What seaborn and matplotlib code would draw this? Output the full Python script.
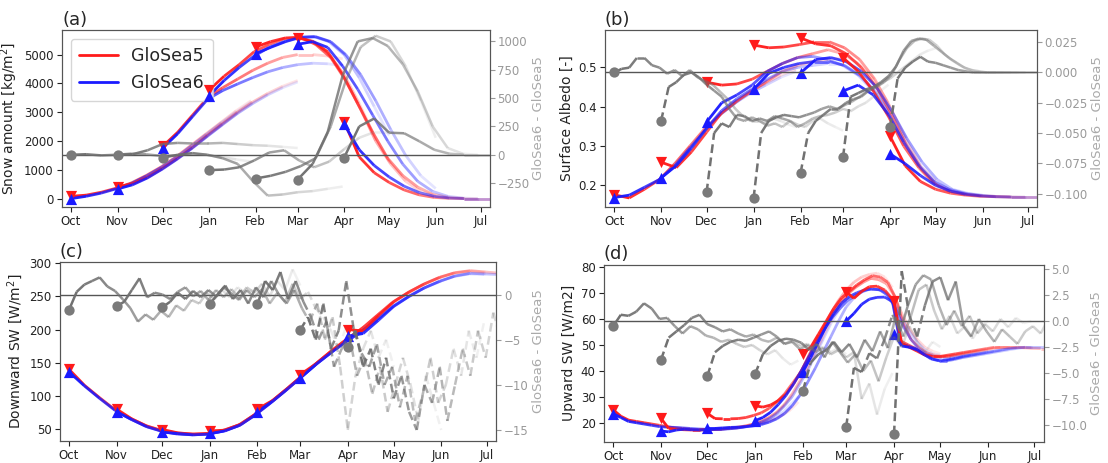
import numpy as np
import matplotlib
matplotlib.use('Agg')
import matplotlib.pyplot as plt
from matplotlib.collections import LineCollection
from matplotlib.colors import to_rgba
from matplotlib.lines import Line2D
import seaborn as sns

sns.set_style('ticks')
plt.rcParams['font.family'] = ['DejaVu Sans']

# start dates of the forecasts, in days since 1 Oct
init_days = [0, 31, 61, 92, 123, 151, 182]
month_days = [0, 31, 61, 92, 123, 151, 182, 212, 243, 273]
month_labels = ['Oct', 'Nov', 'Dec', 'Jan', 'Feb', 'Mar', 'Apr', 'May', 'Jun', 'Jul']

# (a) snow amount, every 10 days of lead time
snow_g5 = [
    [80, 120, 220, 360, 540, 800, 1100, 1450, 1850, 2250, 2650, 3050, 3400],
    [403, 520, 740, 1050, 1400, 1780, 2200, 2600, 3000, 3350, 3650, 3900, 4100],
    [1810, 2300, 2900, 3500, 3850, 4150, 4450, 4700, 4900, 5000, 5000, 4950, 4850],
    [3767, 4250, 4650, 5100, 5350, 5550, 5600, 5450, 5000, 4300, 3300, 2200, 1300],
    [5265, 5450, 5580, 5600, 5350, 4900, 4100, 3100, 2000, 1200, 600, 250, 100],
    [5587, 5450, 5100, 4300, 3300, 2300, 1400, 800, 400, 150, 50, 10, 0],
    [2673, 1450, 900, 560, 300, 130, 40, 10, 0, 0, 0, 0, 0],
]
snow_g6 = [
    [0, 80, 190, 340, 520, 780, 1080, 1430, 1820, 2220, 2620, 3000, 3350],
    [334, 480, 720, 1030, 1380, 1760, 2170, 2570, 2960, 3300, 3600, 3850, 4050],
    [1750, 2250, 2850, 3450, 3750, 3980, 4200, 4400, 4550, 4650, 4700, 4680, 4620],
    [3571, 4100, 4550, 4950, 5250, 5450, 5600, 5620, 5450, 5000, 4200, 3200, 2200],
    [5035, 5250, 5450, 5600, 5620, 5450, 5000, 4300, 3400, 2400, 1500, 800, 350],
    [5357, 5450, 5250, 4600, 3800, 2900, 2000, 1200, 600, 250, 80, 20, 0],
    [2580, 1700, 1150, 750, 430, 210, 80, 20, 0, 0, 0, 0, 0],
]
snow_diff = [
    [0, 5, -5, 0, 10, 5, -10, -5, 10, 0, -20, -40, -60],
    [0, 5, 40, 95, 105, 100, 100, 105, 95, 85, 80, 70, 60],
    [-26, 0, 15, 0, -30, -80, -230, -360, -350, -330, -320, -300, -280],
    [-135, -130, -110, -50, 20, 40, -50, -110, -60, 50, 150, 200, 200],
    [-209, -185, -150, -100, -30, 250, 650, 950, 1050, 1000, 780, 480, 150],
    [-218, -80, 200, 700, 1000, 1030, 960, 800, 560, 250, 60, 10, 0],
    [-24, 250, 320, 195, 190, 120, 45, 10, 0, 0, 0, 0, 0],
]

# (b) surface albedo, lines every 10 days, differences every 5 days
albedo_g5 = [
    [0.176, 0.168, 0.19, 0.215, 0.255, 0.30, 0.345, 0.38, 0.41, 0.44, 0.46, 0.48, 0.495],
    [0.259, 0.245, 0.285, 0.335, 0.385, 0.415, 0.44, 0.465, 0.49, 0.505, 0.515, 0.52, 0.525],
    [0.4625, 0.455, 0.458, 0.47, 0.49, 0.51, 0.525, 0.535, 0.545, 0.535, 0.51, 0.47, 0.41],
    [0.557, 0.55, 0.552, 0.558, 0.565, 0.565, 0.55, 0.52, 0.47, 0.40, 0.32, 0.25, 0.21],
    [0.575, 0.56, 0.555, 0.535, 0.50, 0.45, 0.38, 0.30, 0.24, 0.20, 0.185, 0.177, 0.173],
    [0.525, 0.49, 0.44, 0.375, 0.30, 0.245, 0.205, 0.185, 0.178, 0.174, 0.172, 0.171, 0.17],
    [0.325, 0.25, 0.21, 0.19, 0.18, 0.175, 0.172, 0.171, 0.17, 0.17, 0.17, 0.17, 0.17],
]
albedo_g6 = [
    [0.169, 0.175, 0.195, 0.215, 0.25, 0.295, 0.34, 0.38, 0.41, 0.435, 0.455, 0.475, 0.49],
    [0.219, 0.25, 0.295, 0.345, 0.39, 0.42, 0.445, 0.47, 0.49, 0.50, 0.505, 0.51, 0.51],
    [0.361, 0.41, 0.43, 0.455, 0.49, 0.51, 0.525, 0.528, 0.52, 0.505, 0.48, 0.44, 0.39],
    [0.444, 0.485, 0.50, 0.51, 0.515, 0.515, 0.505, 0.48, 0.44, 0.38, 0.31, 0.25, 0.21],
    [0.486, 0.52, 0.525, 0.515, 0.49, 0.45, 0.39, 0.32, 0.26, 0.215, 0.19, 0.18, 0.175],
    [0.44, 0.455, 0.43, 0.38, 0.31, 0.25, 0.21, 0.19, 0.18, 0.175, 0.172, 0.171, 0.17],
    [0.28, 0.255, 0.225, 0.20, 0.185, 0.177, 0.173, 0.171, 0.17, 0.17, 0.17, 0.17, 0.17],
]
albedo_diff = [
    [0.000, 0.003, 0.004, 0.012, 0.012, 0.006, 0.004, -0.001, 0.002, -0.003, 0.002, -0.004, -0.007,
     -0.01, -0.016, -0.022, -0.03, -0.036, -0.04, -0.04, -0.042, -0.038, -0.04, -0.043, -0.045],
    [-0.040, -0.012, -0.008, -0.002, 0.000, -0.004, -0.01, -0.015, -0.02, -0.03, -0.038, -0.04, -0.037,
     -0.04, -0.044, -0.042, -0.045, -0.04, -0.043, -0.045, -0.04, -0.038, -0.042, -0.045, -0.048],
    [-0.099, -0.05, -0.042, -0.045, -0.035, -0.036, -0.04, -0.038, -0.04, -0.036, -0.038, -0.04, -0.045,
     -0.042, -0.038, -0.036, -0.035, -0.033, -0.03, -0.032, -0.028, -0.025, -0.02, -0.015, -0.01],
    [-0.104, -0.05, -0.04, -0.037, -0.035, -0.036, -0.037, -0.035, -0.033, -0.03, -0.028, -0.03, -0.027,
     -0.024, -0.02, -0.015, -0.012, -0.008, -0.005, 0.000, 0.005, 0.010, 0.015, 0.018, 0.02],
    [-0.083, -0.05, -0.04, -0.035, -0.03, -0.03, -0.025, -0.022, -0.02, -0.015, -0.012, -0.008, -0.002,
     0.01, 0.02, 0.026, 0.028, 0.027, 0.022, 0.015, 0.01, 0.006, 0.003, 0.001, 0.000],
    [-0.070, -0.02, -0.017, -0.014, -0.012, -0.008, -0.003, 0.005, 0.018, 0.026, 0.028, 0.027, 0.022,
     0.017, 0.012, 0.008, 0.004, 0.002, 0.001, 0.0, 0.0, 0.0, 0.0, 0.0, 0.0],
    [-0.045, -0.005, 0.004, 0.009, 0.013, 0.009, 0.008, 0.006, 0.004, 0.002, 0.001, 0.0, 0.0,
     0.0, 0.0, 0.0, 0.0, 0.0, 0.0, 0.0, 0.0, 0.0, 0.0, 0.0, 0.0],
]

# (c) downward shortwave, lines every 10 days, differences every 5 days
swdown_g5 = [
    [140, 116, 97, 79, 66, 55, 48, 44, 42, 43, 47, 55, 69],
    [80, 65, 54, 47, 43, 42, 43, 48, 56, 71, 89, 108, 128],
    [49, 44, 42, 43, 48, 56, 71, 89, 108, 128, 148, 167, 185],
    [47, 48, 57, 73, 91, 110, 130, 150, 169, 186, 203, 223, 242],
    [80, 93, 112, 132, 152, 171, 188, 205, 225, 244, 258, 270, 279],
    [132, 148, 167, 185, 201, 221, 241, 255, 268, 278, 285, 288, 286],
    [200, 198, 221, 242, 257, 269, 279, 286, 289, 287, 285, 284, 283],
]
swdown_g6 = [
    [136, 115, 96, 78, 65, 54, 47, 43, 41, 42, 46, 54, 68],
    [76, 64, 53, 46, 42, 41, 42, 47, 55, 70, 88, 107, 127],
    [45, 43, 41, 42, 47, 55, 70, 88, 107, 127, 147, 165, 183],
    [43, 47, 56, 72, 90, 109, 129, 149, 167, 184, 199, 217, 236],
    [76, 92, 111, 131, 151, 169, 185, 200, 219, 238, 252, 264, 273],
    [127, 147, 165, 182, 197, 215, 234, 249, 262, 272, 280, 284, 283],
    [190, 194, 214, 235, 250, 263, 273, 281, 285, 284, 283, 282, 282],
]
swdown_diff = [
    [-1.7, 0.3, 1.1, 1.5, 1.9, 0.9, 0.4, -0.5, -1.5, -3.0, -2.2, -2.8, -1.8,
     -2.5, -1.2, -1.8, -0.6, -1.0, 0.2, -0.5, 0.5, -0.3, 0.8, 0.2, 0.5],
    [-1.3, -0.8, 0.5, 1.8, -0.3, 0.2, 0.0, -0.5, 0.3, 0.8, -0.2, 0.4, -0.6,
     0.5, -0.3, 0.6, -0.4, 0.8, 0.2, 1.2, -0.2, 1.5, 0.5, 2.8, 1.0],
    [-1.4, -0.8, 0.2, -0.5, 0.4, -0.3, 0.5, -0.2, 0.8, 0.1, -0.6, 0.5, -0.3,
     0.6, -1.0, 0.2, -0.8, 1.2, -0.5, 0.3, -1.5, -2.5, -4.0, -6.0, -3.5],
    [-1.0, 0.0, 1.0, -0.5, 0.5, -1.0, 0.8, -0.3, 1.5, 0.0, -1.0, 0.5, -1.5,
     -3.0, -1.0, -5.0, -2.5, -8.0, -15.0, -9.0, -6.0, -4.0, -7.0, -5.0, -8.0],
    [-1.1, 1.5, 0.5, 2.5, -0.5, 1.5, -0.8, -2.5, -5.0, -3.0, -8.0, -6.0, -4.5,
     -9.0, -7.0, -11.0, -8.0, -13.0, -10.0, -7.0, -10.0, -14.0, -9.0, -12.0, -15.0],
    [-3.9, -2.5, -5.0, -1.0, -6.0, -4.0, 1.5, -4.0, -6.5, -8.0, -5.5, -10.0, -8.0,
     -12.5, -9.0, -14.0, -11.0, -7.0, -12.0, -10.0, -6.0, -9.0, -4.0, -7.0, -3.0],
    [-5.8, -4.0, -8.0, -6.0, -10.0, -7.0, -11.5, -9.0, -13.0, -15.0, -10.0, -12.0, -8.0,
     -14.0, -10.0, -6.0, -9.0, -4.0, -7.0, -2.0, -5.0, -3.0, -6.0, -2.0, -4.0],
]

# (d) upward shortwave, everything every 5 days
swup_g5 = [
    [25, 22.5, 21, 20.5, 20, 19.5, 19, 18.5, 18, 17.8, 17.5, 17.5, 17.5,
     17.5, 17.5, 17.8, 18, 18.5, 19, 19.5, 20.5, 21.5, 23, 25, 28],
    [21.7, 17.8, 17.5, 17.3, 17.2, 17.2, 17.3, 17.5, 17.7, 18, 18.3, 18.8, 19.5,
     20.5, 22, 24, 27, 31, 36, 41, 47, 53, 59, 64, 68],
    [23.6, 21.6, 21.5, 21.5, 21.6, 22, 22.8, 23.8, 25.5, 28, 31, 35, 39,
     44, 50, 56, 62, 67, 71, 74, 76, 77, 77.5, 76, 72],
    [26.5, 26, 26.8, 28.5, 31, 35, 40, 46, 52, 57, 62, 66, 69.5,
     72, 74, 75.5, 75, 73.5, 69, 62, 56, 52, 49, 47.5, 46.5],
    [46.6, 49, 54, 59, 64, 68, 70.5, 73, 75, 76.5, 76, 74, 68,
     58, 52, 49, 47, 46, 45.5, 45.5, 46, 46.5, 47, 47.5, 48],
    [70.3, 67.8, 70.5, 72.3, 72.5, 71, 67.5, 51.5, 50, 48.5, 46.5, 45.5, 45.3,
     45.5, 46, 46.5, 47, 47.5, 48, 48.5, 49, 49, 49, 49, 48.8],
    [66.8, 50.5, 49, 47.5, 46, 45.5, 45.5, 46, 46.5, 47, 47.5, 48, 48.5,
     49, 49, 49, 49, 48.8, 48.6, 48.5, 48.5, 48.5, 48.5, 48.5, 48.5],
]
swup_g6 = [
    [23.5, 22, 20.5, 20, 19.5, 19, 18.5, 18.3, 18.2, 18, 17.8, 17.6, 17.5,
     17.5, 17.5, 17.8, 18, 18.3, 18.8, 19.5, 20.5, 22, 24, 27, 30],
    [16.8, 16.5, 17.2, 17.5, 17.3, 17.2, 17.3, 17.4, 17.5, 17.7, 18, 18.5, 19.2,
     20.2, 21.5, 23.5, 26.5, 30, 35, 40, 46, 52, 58, 63, 67],
    [17.8, 17.8, 18, 18.2, 18.3, 18.5, 18.8, 19.3, 20.2, 21.5, 23.5, 26.5, 30.5,
     35.5, 41, 47, 53, 59, 64.5, 68, 70.5, 71.5, 71.5, 70, 66],
    [20.8, 22, 24, 27, 30.5, 35, 40, 45.5, 51, 56, 60.5, 64, 67,
     69, 70.5, 71.5, 71.5, 70, 66, 60, 55, 51, 48, 46.5, 46],
    [39.6, 45, 51, 57, 62, 66, 68.5, 70, 71, 71.5, 71, 69, 64,
     57, 52, 48.5, 46.5, 45.5, 45, 45, 45.5, 46, 46.5, 47, 47.5],
    [59.1, 62, 65.5, 67.5, 68.2, 68.3, 66.5, 50.5, 49.5, 48.5, 46.5, 44.5, 43.8,
     43.8, 44.3, 45, 45.5, 46, 46.5, 47, 47.5, 48, 48.5, 48.8, 49],
    [54.3, 49.5, 49, 48, 46, 44.5, 43.8, 44.2, 44.8, 45.5, 46, 46.5, 47,
     47.5, 48, 48.5, 48.8, 49, 49, 49, 49, 48.8, 48.6, 48.5, 48.5],
]
swup_diff = [
    [-0.5, 0.6, 0.5, 0.9, 1.7, 1.2, 0.2, 0.3, -0.5, -1.2, -0.5, -0.8, -1.4,
     -1.6, -2.0, -1.8, -2.2, -2.5, -2.3, -2.8, -3.2, -2.8, -3.6, -4.2, -3.8],
    [-3.74, -1.6, -1.0, -0.4, 0.3, 0.6, -0.3, -0.6, -1.0, -0.8, -1.2, -1.5, -1.3,
     -1.8, -2.0, -1.6, -2.2, -1.9, -2.4, -2.2, -2.8, -2.5, -3.0, -2.6, -3.2],
    [-5.3, -3.0, -2.4, -2.0, -1.8, -1.9, -1.6, -1.3, -1.0, -1.5, -2.2, -2.0, -2.7,
     -2.3, -3.0, -2.6, -3.2, -2.8, -3.5, -3.0, -7.5, -6.0, -9.0, -6.5, -5.0],
    [-5.1, -3.2, -2.4, -1.9, -1.7, -1.8, -2.1, -2.8, -2.2, -3.5, -2.0, -3.0, -4.0,
     -3.2, -4.8, -3.8, -5.8, -3.5, -1.5, -2.5, -0.5, -2.0, -3.0, -2.0, -2.5],
    [-6.7, -4.0, -3.2, -2.8, -2.0, -3.0, -2.2, -3.5, -1.8, -2.9, -1.0, -2.6, 0.4,
     -1.5, 0.5, 3.0, 3.5, 1.0, -0.8, 0.5, -1.2, -0.5, -1.7, -0.5, 0.0],
    [-10.2, -4.5, -4.9, -3.1, -3.6, -1.7, 0.6, -1.0, 1.5, 3.5, 4.4, 4.0, 1.5,
     -0.4, 1.0, -0.5, 0.5, -1.2, -0.3, -1.0, 0.2, -0.6, 0.3, -0.2, 0.0],
    [-10.9, 4.8, 0.5, -1.5, 1.5, 3.8, 4.2, 2.0, 3.8, -0.5, -1.5, 0.2, -1.0,
     -2.0, -0.8, -1.5, -2.2, -1.0, -0.5, -1.2, 0.2, -0.5, 0.3, -0.2, 0.2],
]

RED = '#ff1a1a'
BLUE = '#1a1aff'
GREY = '#6e6e6e'
LEAD_MAX = 130.0


def faded_line(ax, x0, step, vals, color, lw, n_dash=0, dash_from=None):
    # line whose opacity drops with lead time
    x = x0 + step * np.arange(len(vals))
    y = np.asarray(vals, dtype=float)
    segs, cols, styles = [], [], []
    base = to_rgba(color)
    for i in range(len(x) - 1):
        segs.append([(x[i], y[i]), (x[i + 1], y[i + 1])])
        a = max(0.03, 1.0 - step * (i + 0.5) / LEAD_MAX)
        cols.append(base[:3] + (a,))
        dashed = i < n_dash or (dash_from is not None and x[i] >= dash_from)
        styles.append((0, (3.5, 1.8)) if dashed else 'solid')
    ax.add_collection(LineCollection(segs, colors=cols, linewidths=lw,
                                     linestyles=styles, capstyle='butt'))


def panel(ax, g5, g6, diff, step_line, step_diff, ylim, ylim2, ylabel, tag,
          n_dash=None, dash_from=None):
    ax2 = ax.twinx()
    ax2.axhline(0, color='#555555', lw=1.0, zorder=1)
    for k, d0 in enumerate(init_days):
        nd = 0 if n_dash is None else n_dash[k]
        faded_line(ax2, d0, step_diff, diff[k], GREY, 1.8, nd, dash_from)
    sns.scatterplot(x=init_days, y=[v[0] for v in diff], ax=ax2, color='#7a7a7a',
                    s=55, linewidth=0, zorder=5)
    for k, d0 in enumerate(init_days):
        faded_line(ax, d0, step_line, g5[k], RED, 2.0)
        faded_line(ax, d0, step_line, g6[k], BLUE, 2.0)
    sns.scatterplot(x=init_days, y=[v[0] for v in g5], ax=ax, marker='v', color=RED,
                    s=65, linewidth=0, zorder=6)
    sns.scatterplot(x=init_days, y=[v[0] for v in g6], ax=ax, marker='^', color=BLUE,
                    s=65, linewidth=0, zorder=6)

    ax.set_xlim(-6, 279)
    ax.set_xticks(month_days)
    ax.set_xticklabels(month_labels)
    ax.set_ylim(*ylim)
    ax2.set_ylim(*ylim2)
    ax.set_ylabel(ylabel, fontsize=10, color='#222222', labelpad=3)
    ax2.set_ylabel('GloSea6 - GloSea5', fontsize=9.5, color='#aaaaaa', labelpad=2)
    ax.tick_params(labelsize=8.5, colors='#222222', pad=2.5)
    ax2.tick_params(labelsize=8.5, colors='#999999', labelcolor='#999999', pad=2)
    for a in (ax, ax2):
        for s in a.spines.values():
            s.set_color('#555555')
    ax.set_title(tag, loc='left', fontsize=13, pad=4)
    return ax2


fig = plt.figure(figsize=(11.08, 4.63), dpi=100)
ax_a = fig.add_axes([0.056, 0.553, 0.386, 0.382])
ax_b = fig.add_axes([0.546, 0.553, 0.390, 0.382])
ax_c = fig.add_axes([0.054, 0.048, 0.394, 0.386])
ax_d = fig.add_axes([0.545, 0.046, 0.397, 0.382])

panel(ax_a, snow_g5, snow_g6, snow_diff, 10, 10, (-290, 5850), (-460, 1100),
      'Snow amount [kg/m$^2$]', '(a)')
panel(ax_b, albedo_g5, albedo_g6, albedo_diff, 10, 5, (0.145, 0.595), (-0.111, 0.035),
      'Surface Albedo [-]', '(b)', n_dash=[0, 1, 1, 1, 1, 1, 1])
panel(ax_c, swdown_g5, swdown_g6, swdown_diff, 10, 5, (32, 302), (-16.2, 3.6),
      'Downward SW [W/m$^2$]', '(c)', dash_from=150)
panel(ax_d, swup_g5, swup_g6, swup_diff, 5, 5, (12.7, 80.7), (-11.6, 5.4),
      'Upward SW [W/m2]', '(d)', n_dash=[0, 1, 1, 1, 1, 6, 4])

handles = [Line2D([], [], color=RED, lw=2), Line2D([], [], color=BLUE, lw=2)]
ax_a.legend(handles, ['GloSea5', 'GloSea6'], loc='upper left', fontsize=12.5,
            frameon=True, handlelength=2.2, borderpad=0.5)

fig.savefig('out.png', dpi=100)
